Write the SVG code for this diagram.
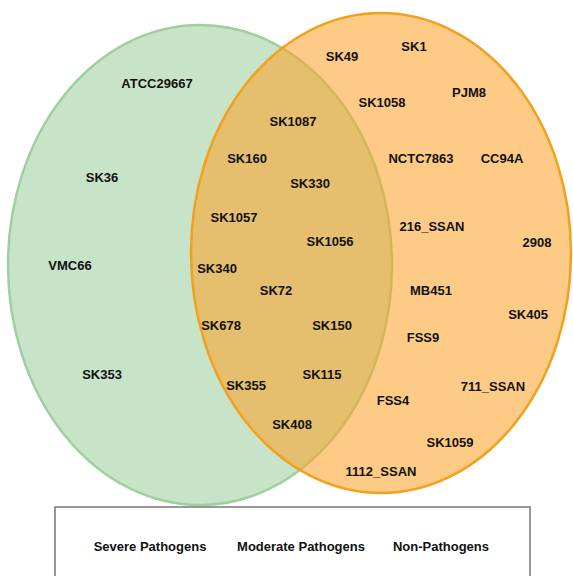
<svg xmlns="http://www.w3.org/2000/svg" width="573" height="576" viewBox="0 0 573 576">
<style>
text{font-family:"Liberation Sans",Arial,sans-serif;font-weight:bold;font-size:13px;fill:#111;text-anchor:middle}
.lg{font-size:13px}
</style>
<rect width="573" height="576" fill="#fff"/>
<g id="severe">
<ellipse cx="200" cy="265" rx="192" ry="240" fill="#c8e4c8" stroke="#9fcf9f" stroke-width="2.5"/>
</g>
<g id="nonpath">
<ellipse cx="381" cy="253" rx="190" ry="240" fill="#fda023" fill-opacity="0.55" stroke="#f2a01e" stroke-width="2.5"/>
</g>
<g id="labels">
<text x="157" y="88">ATCC29667</text>
<text x="102" y="182">SK36</text>
<text x="70" y="270">VMC66</text>
<text x="102" y="379">SK353</text>
<text x="293" y="126">SK1087</text>
<text x="247" y="163">SK160</text>
<text x="310" y="188">SK330</text>
<text x="234" y="222">SK1057</text>
<text x="330" y="246">SK1056</text>
<text x="217" y="273">SK340</text>
<text x="276" y="295">SK72</text>
<text x="221" y="330">SK678</text>
<text x="332" y="330">SK150</text>
<text x="322" y="379">SK115</text>
<text x="246" y="390">SK355</text>
<text x="292" y="429">SK408</text>
<text x="342" y="61">SK49</text>
<text x="414" y="51">SK1</text>
<text x="469" y="97">PJM8</text>
<text x="382" y="107">SK1058</text>
<text x="421" y="163">NCTC7863</text>
<text x="502" y="163">CC94A</text>
<text x="432" y="231">216_SSAN</text>
<text x="537" y="247">2908</text>
<text x="431" y="295">MB451</text>
<text x="528" y="319">SK405</text>
<text x="423" y="342">FSS9</text>
<text x="493" y="391">711_SSAN</text>
<text x="393" y="405">FSS4</text>
<text x="450" y="447">SK1059</text>
<text x="381" y="476">1112_SSAN</text>
</g>
<g id="legend">
<rect x="55" y="507" width="475" height="80" fill="#fff" stroke="#777" stroke-width="1.5"/>
<text class="lg" x="150" y="551">Severe Pathogens</text>
<text class="lg" x="301" y="551">Moderate Pathogens</text>
<text class="lg" x="441" y="551">Non-Pathogens</text>
</g>
</svg>
